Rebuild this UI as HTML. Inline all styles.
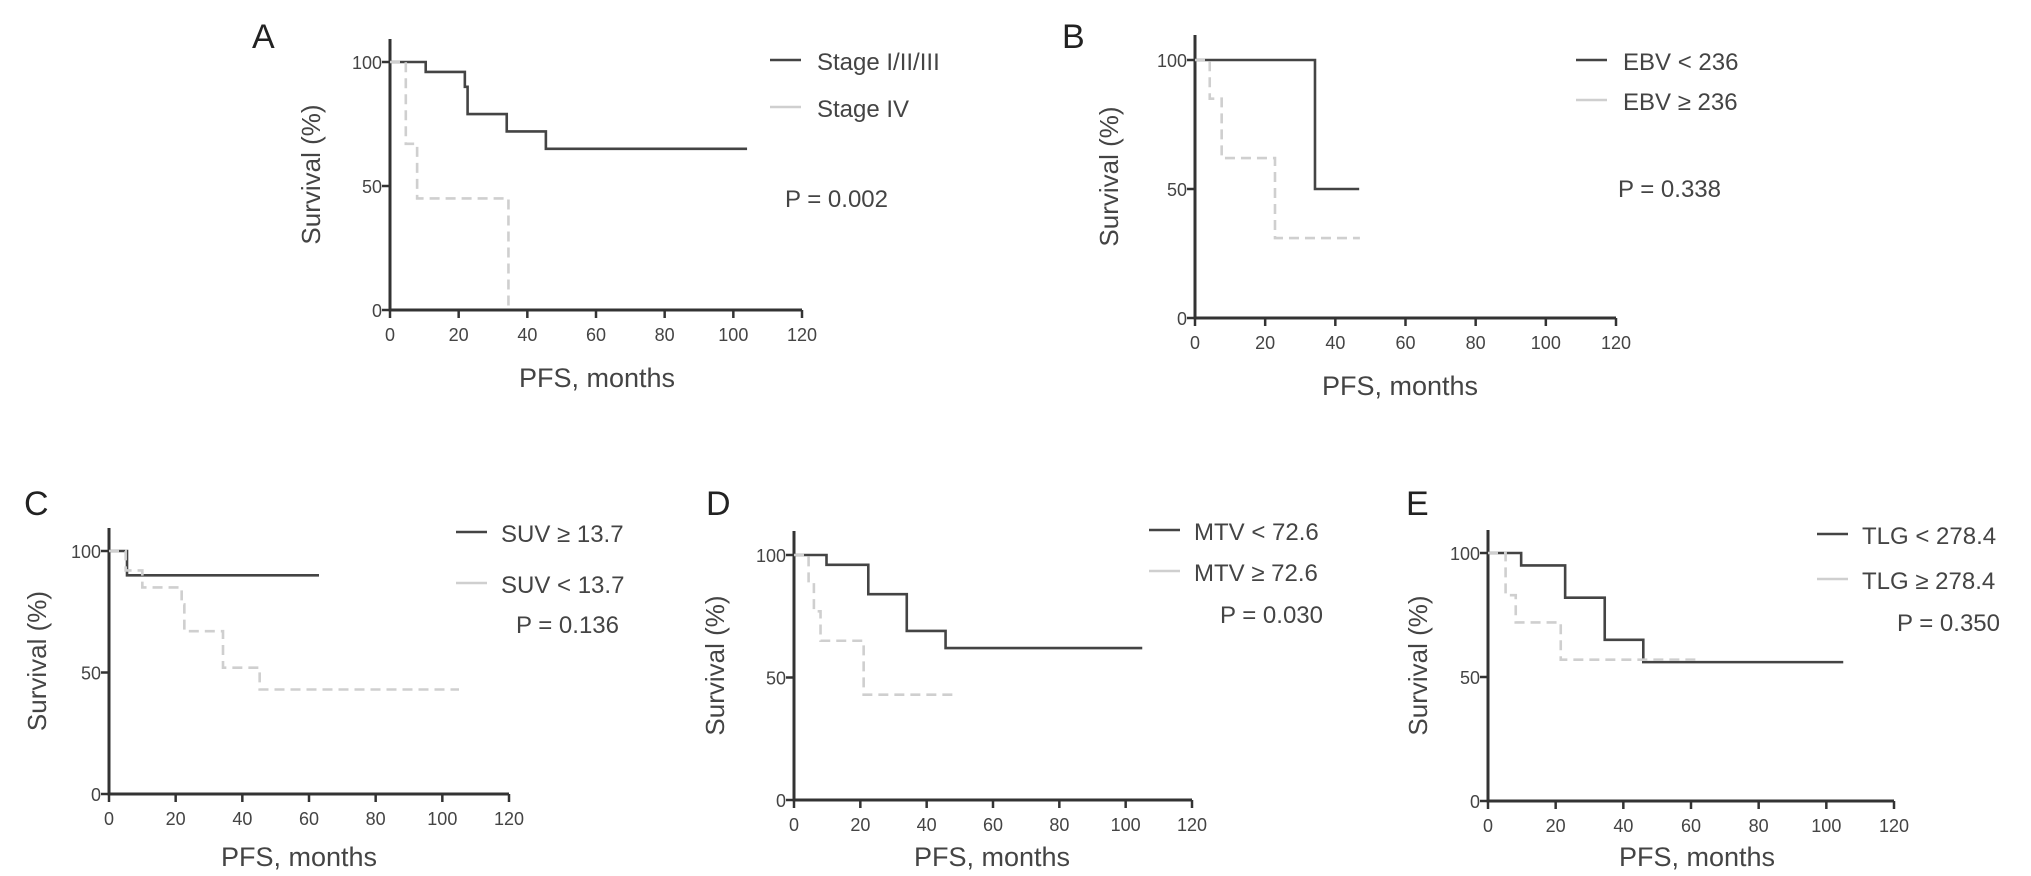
<!DOCTYPE html>
<html><head><meta charset="utf-8"><style>
body{margin:0;background:#fff;}
svg{display:block;font-family:"Liberation Sans",sans-serif;}
</style></head><body>
<svg id="fig" width="2031" height="876"></svg>
<script>
// Panel data: KM step times and survival values
const aSolidT=[0,10.4,21.8,22.6,34,45.4,104], aSolidS=[100,96,90,79,72,65,65];
const aDashT=[0,4.6,7.9,34.5,34.5], aDashS=[100,67,45,0,0];
const bSolidT=[0,34.2,46.8], bSolidS=[100,50,50];
const bDashT=[0,4.2,7.6,22.8,47], bDashS=[100,85,62,31,31];
const cSolidT=[0,5.4,63], cSolidS=[100,90,90];
const cDashT=[0,5,10,21.8,22.6,34.2,45.2,105], cDashS=[100,92,85,78,67,52,43,43];
const dSolidT=[0,9.8,22.4,34,45.7,105], dSolidS=[100,96,84,69,62,62];
const dDashT=[0,4.4,6,8,21,48], dDashS=[100,88,77,65,43,43];
const eSolidT=[0,9.8,22.8,34.5,45.9,105], eSolidS=[100,95,82,65,56,56];
const eDashT=[0,5.2,8.2,21.5,62], eDashS=[100,83,72,57,57];
const xTicks=[0,20,40,60,80,100,120];
const yTicks=[0,50,100];
const NS="http://www.w3.org/2000/svg";
const svg=document.getElementById('fig');
function el(tag,attrs,parent,text){const e=document.createElementNS(NS,tag);for(const k in attrs)e.setAttribute(k,attrs[k]);if(text!==undefined)e.textContent=text;(parent||svg).appendChild(e);return e;}
const panels=[
 {id:'a',letter:'A',lx:252,ly:48,x0:390,x1:802,y100:62,y0:310,top:39,series:[[aSolidT,aSolidS],[aDashT,aDashS]],leg:["Stage I/II/III","Stage IV"],legX:770,legT:817,legY:[70,117],p:"P = 0.002",px:785,py:207,ylx:320,xlx:597,xly:387},
 {id:'b',letter:'B',lx:1062,ly:48,x0:1195,x1:1616,y100:60,y0:318,top:35,series:[[bSolidT,bSolidS],[bDashT,bDashS]],leg:["EBV < 236","EBV \u2265 236"],legX:1576,legT:1623,legY:[70,110],p:"P = 0.338",px:1618,py:197,ylx:1118,xlx:1400,xly:395},
 {id:'c',letter:'C',lx:24,ly:515,x0:109,x1:509,y100:551,y0:794,top:528,series:[[cSolidT,cSolidS],[cDashT,cDashS]],leg:["SUV \u2265 13.7","SUV < 13.7"],legX:456,legT:501,legY:[542,593],p:"P = 0.136",px:516,py:633,ylx:46,xlx:299,xly:866},
 {id:'d',letter:'D',lx:706,ly:515,x0:794,x1:1192,y100:555,y0:800,top:531,series:[[dSolidT,dSolidS],[dDashT,dDashS]],leg:["MTV < 72.6","MTV \u2265 72.6"],legX:1149,legT:1194,legY:[540,581],p:"P = 0.030",px:1220,py:623,ylx:724,xlx:992,xly:866},
 {id:'e',letter:'E',lx:1406,ly:515,x0:1488,x1:1894,y100:553,y0:801,top:530,series:[[eSolidT,eSolidS],[eDashT,eDashS]],leg:["TLG < 278.4","TLG \u2265 278.4"],legX:1817,legT:1862,legY:[544,589],p:"P = 0.350",px:1897,py:631,ylx:1427,xlx:1697,xly:866}
];
const styles=[{stroke:'#444',dash:''},{stroke:'#cfcfcf',dash:'10,6'}];
panels.forEach(P=>{
 const g=el('g',{});
 
 
 const xs=v=>P.x0+(P.x1-P.x0)*v/120;
 const ys=v=>P.y0-(P.y0-P.y100)*v/100;
 const L=el('text',{x:P.lx,y:P.ly,'font-size':34,fill:'#222'},g,P.letter);
 
 const ax=el('path',{d:`M${P.x0},${P.top}V${P.y0}H${P.x1}`,stroke:'#333','stroke-width':3,fill:'none'},g);
 
 xTicks.forEach(t=>{
  el('line',{x1:xs(t),x2:xs(t),y1:P.y0,y2:P.y0+8,stroke:'#333','stroke-width':2.5},g);
  const tx=el('text',{x:xs(t),y:P.y0+31,'font-size':18,'text-anchor':'middle',fill:'#444'},g,t);
  
 });
 yTicks.forEach(t=>{
  el('line',{x1:P.x0-8,x2:P.x0,y1:ys(t),y2:ys(t),stroke:'#333','stroke-width':2.5},g);
  const ty=el('text',{x:P.x0-8,y:ys(t)+7,'font-size':18,'text-anchor':'end',fill:'#444'},g,t);
  
 });
 const cy=(P.top+P.y0)/2;
 const yl=el('text',{x:P.ylx,y:cy,'font-size':26,'text-anchor':'middle',fill:'#444',transform:`rotate(-90 ${P.ylx} ${cy})`},g,'Survival (%)');
 
 const xl=el('text',{x:P.xlx,y:P.xly,'font-size':27,'text-anchor':'middle',fill:'#444'},g,'PFS, months');
 
 P.series.forEach((s,i)=>{
  const [T,S]=s;let d=`M${xs(T[0])},${ys(S[0])}`;
  for(let k=1;k<T.length;k++){d+=`H${xs(T[k])}V${ys(S[k])}`;}
  const p=el('path',{d,stroke:styles[i].stroke,'stroke-width':2.6,fill:'none','stroke-dasharray':styles[i].dash},g);
  
  const ll=el('line',{x1:P.legX,x2:P.legX+31,y1:P.legY[i]-10,y2:P.legY[i]-10,stroke:styles[i].stroke,'stroke-width':2.6},g);
  
  const lt=el('text',{x:P.legT,y:P.legY[i],'font-size':24,fill:'#444'},g,P.leg[i]);
  
 });
 const pt=el('text',{x:P.px,y:P.py,'font-size':24,fill:'#444'},g,P.p);
 
});
</script>
</body></html>
